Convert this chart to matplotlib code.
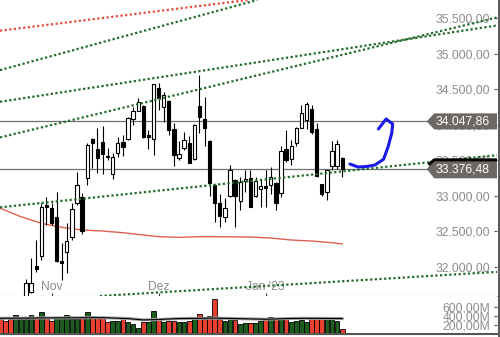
import numpy as np
import matplotlib
matplotlib.use('Agg')
from matplotlib import pyplot as plt
from matplotlib.patches import Polygon
from matplotlib.lines import Line2D

plt.rcParams['font.family'] = ['Liberation Sans', 'DejaVu Sans']

# daily candles (index 0 = first bar on the left)
opens = [30900, 31150, 31350, 31200, 31350, 31450, 31650, 32012, 32153, 32871,
         32833, 32698, 32082, 32213, 32416, 32903, 32988, 33247, 33796, 33659,
         33762, 33557, 33308, 33599, 33754, 33800, 34078, 34199, 34265, 33857,
         33796, 34514, 34255, 34335, 33941, 33537, 33678, 33740, 33514, 34265,
         34082, 33772, 33153, 32895, 32706, 32998, 33223, 32931, 33209, 33247,
         32998, 33100, 33138, 33148, 33176, 33036, 33655, 33514, 33748, 33959,
         34068, 34218, 33937, 33162, 33058, 33420, 33420, 33528]
highs = [31200, 31400, 31500, 31450, 31550, 31825, 32120, 32378, 32903, 32988,
         32895, 33058, 32336, 32613, 32895, 33340, 33044, 33744, 33810, 33951,
         33983, 33669, 33607, 33833, 33857, 34114, 34255, 34373, 34275, 33927,
         34580, 34584, 34466, 34345, 34021, 33776, 33903, 33842, 34005, 34701,
         34396, 33790, 33165, 33026, 32965, 33434, 33235, 33269, 33364, 33364,
         33269, 33223, 33364, 33402, 33190, 33702, 33927, 33786, 33965, 34279,
         34325, 34279, 34030, 33170, 33370, 33776, 33786, 33540]
lows = [30800, 31050, 31100, 31000, 31250, 31350, 31628, 31932, 32097, 32589,
        32589, 32070, 31815, 31909, 32378, 32871, 32463, 33153, 33388, 33322,
        33308, 33505, 33233, 33543, 33561, 33790, 33997, 34190, 33810, 33659,
        33575, 34210, 34044, 33857, 33424, 33505, 33645, 33460, 33505, 33889,
        33702, 32998, 32636, 32565, 32636, 32990, 32557, 32801, 33058, 32840,
        32990, 32839, 32839, 33026, 32801, 32988, 33481, 33434, 33702, 33950,
        33937, 33866, 33270, 32998, 32941, 33364, 33374, 33261]
closes = [31150, 31350, 31200, 31400, 31450, 31768, 31768, 31966, 32847, 32847,
          32622, 32087, 32059, 32368, 32810, 33153, 32505, 33716, 33740, 33528,
          33585, 33543, 33543, 33740, 33692, 34092, 34194, 34325, 33833, 33833,
          34570, 34373, 34420, 33927, 33575, 33589, 33786, 33467, 33997, 34106,
          33959, 33185, 32895, 32720, 32824, 33364, 32998, 33199, 33237, 32847,
          33209, 33138, 33115, 33261, 32903, 33631, 33505, 33702, 33962, 34171,
          34293, 33903, 33279, 33022, 33364, 33631, 33730, 33376.48]

# volume in millions
volumes = [334, 303, 334, 429, 334, 334, 422, 356, 495, 391,
           303, 391, 378, 422, 334, 334, 356, 488, 413, 378,
           391, 281, 303, 303, 356, 268, 224, 136, 281, 268,
           523, 319, 281, 303, 303, 281, 268, 297, 334, 444,
           334, 407, 780, 334, 303, 334, 319, 224, 259, 259,
           259, 303, 356, 378, 334, 356, 334, 281, 303, 319,
           281, 356, 356, 334, 378, 356, 303, 114]
vol_dir = "rrrggggrgrrgggggrgrrrrggrgggrggrgrr" + "ggrgrrrrrggrggrggrgrgrggggrrrgggr"

vma_idx = [0, 10, 20, 25, 28, 31, 35, 42, 48, 52, 56, 60, 67]
vma_val = [356, 365, 370, 350, 320, 330, 350, 360, 345, 335, 350, 356, 350]

ma_idx = [0, 4, 8, 12, 16, 20, 24, 28, 31, 35, 39, 43, 49, 53, 57, 61, 65, 67]
ma_val = [32824, 32706, 32613, 32557, 32519, 32505, 32481, 32449, 32425, 32416,
          32425, 32425, 32420, 32406, 32378, 32364, 32340, 32322]

# trendlines: two anchor points (bar index, price)
trend_red = [(0, 35325), (97, 36190)]
trend_green = [[(0, 34772), (97, 36670)],
               [(0, 34325), (97, 35395)],
               [(0, 33824), (97, 35505)],
               [(0, 32839), (97, 33570)],
               [(0, 31505), (97, 31928)]]

levels = [34047.86, 33376.48]

scribble_x = [68.5, 70.1, 71.8, 73.4, 75.1, 76.0, 76.7, 76.9, 75.6, 74.1]
scribble_y = [33448, 33406, 33413, 33434, 33514, 33692, 33880, 34011, 34082, 33941]

month_pos = [10, 31, 52]
month_labels = ['Nov', 'Dez', "Jan '23"]
price_ticks = [32000, 32500, 33000, 33500, 34000, 34500, 35000, 35500]
vol_ticks = [200, 400, 600]


def de(v):
    return f"{v:,.2f}".replace(',', 'X').replace('.', ',').replace('X', '.')


fig = plt.figure(figsize=(5, 3.37), dpi=100)
ax = fig.add_axes([0, 0.12166, 0.994, 0.87834])
axv = fig.add_axes([0, 0.00742, 0.994, 0.11276], sharex=ax)

x = np.arange(len(closes))
o = np.array(opens, dtype=float)
c = np.array(closes, dtype=float)
up = c >= o

ax.vlines(x, lows, highs, color='black', lw=0.8, zorder=3)
ax.bar(x, np.maximum(np.abs(c - o), 10), bottom=np.minimum(o, c), width=0.65,
       color=np.where(up, 'white', 'black'), edgecolor='black', linewidth=0.8, zorder=4)

ax.plot(ma_idx, ma_val, color='#e0604f', lw=1, zorder=2)

ax.axline(trend_red[0], trend_red[1], color='#e84a3a', lw=1.6, linestyle=(0, (1, 1.1)), zorder=5)
for p0, p1 in trend_green:
    ax.axline(p0, p1, color='#1f6b28', lw=1.6, linestyle=(0, (1, 1.1)), zorder=5)

for lvl in levels:
    ax.axhline(lvl, color='#707070', lw=0.9, zorder=2)

tr = ax.get_yaxis_transform()
hh = [113, 130]
for k, lvl in enumerate(levels):
    h = hh[k]
    ax.add_patch(Polygon([(0.8586, lvl), (0.8738, lvl + h), (1.0, lvl + h), (1.0, lvl - h), (0.8738, lvl - h)],
                         closed=True, transform=tr, facecolor='#6d6864', edgecolor='none', zorder=10))
    ax.text(0.986, lvl, de(lvl), transform=tr, ha='right', va='center', color='white', fontsize=8.7, zorder=11)
ax.plot([0.862, 0.8738, 1.0], [levels[1] + 60, levels[1] + hh[1], levels[1] + hh[1]],
        transform=tr, color='black', lw=2.2, zorder=11, solid_capstyle='butt')

ax.plot(scribble_x, scribble_y, color='#1a1ae6', lw=2.2, solid_capstyle='round',
        solid_joinstyle='round', zorder=12)

ax.set_xlim(-0.1, 97.35)
ax.set_ylim(31590, 35757)
ax.yaxis.tick_right()
ax.set_yticks(price_ticks)
ax.set_yticklabels([de(v) for v in price_ticks])
ax.tick_params(axis='y', direction='in', length=2.2, width=0.8, color='#555555', pad=-5,
               labelsize=8.7, labelcolor='#8c8c8c')
for lbl in ax.get_yticklabels():
    lbl.set_horizontalalignment('right')
ax.set_xticks(month_pos)
ax.set_xticklabels(month_labels)
ax.tick_params(axis='x', direction='in', length=2.2, width=0.8, color='#333333', pad=-6.7,
               labelsize=8.7, labelcolor='#8c8c8c')
for lbl in ax.get_xticklabels():
    lbl.set_verticalalignment('center')
for s in ['top', 'left', 'right']:
    ax.spines[s].set_visible(False)
ax.spines['bottom'].set_color('#9a9a9a')
ax.spines['bottom'].set_linewidth(0.8)

axv.bar(x, volumes, width=0.92, color=['#e8402e' if d == 'r' else '#1c5c1c' for d in vol_dir],
        edgecolor='black', linewidth=0.6, zorder=2)
axv.plot(vma_idx, vma_val, color='#a0a0a0', lw=2.2, zorder=3)
axv.plot(vma_idx, vma_val, color='black', lw=0.8, zorder=4)
axv.set_ylim(0, 835)
axv.yaxis.tick_right()
axv.set_yticks(vol_ticks)
axv.set_yticklabels([de(v) + 'M' for v in vol_ticks])
axv.tick_params(axis='y', direction='in', length=2.2, width=0.8, color='#555555', pad=-5,
                labelsize=8.7, labelcolor='#8c8c8c')
for lbl in axv.get_yticklabels():
    lbl.set_horizontalalignment('right')
axv.tick_params(axis='x', direction='in', length=2.2, labelbottom=False, color='#333333')
for s in ['top', 'left', 'right']:
    axv.spines[s].set_visible(False)
axv.spines['bottom'].set_color('#555555')
axv.spines['bottom'].set_linewidth(1.5)

fig.add_artist(Line2D([0.997, 0.997], [0.006, 1.0], transform=fig.transFigure, color='#5c5c5c', lw=2.2))

fig.savefig('out.png', dpi=100)
